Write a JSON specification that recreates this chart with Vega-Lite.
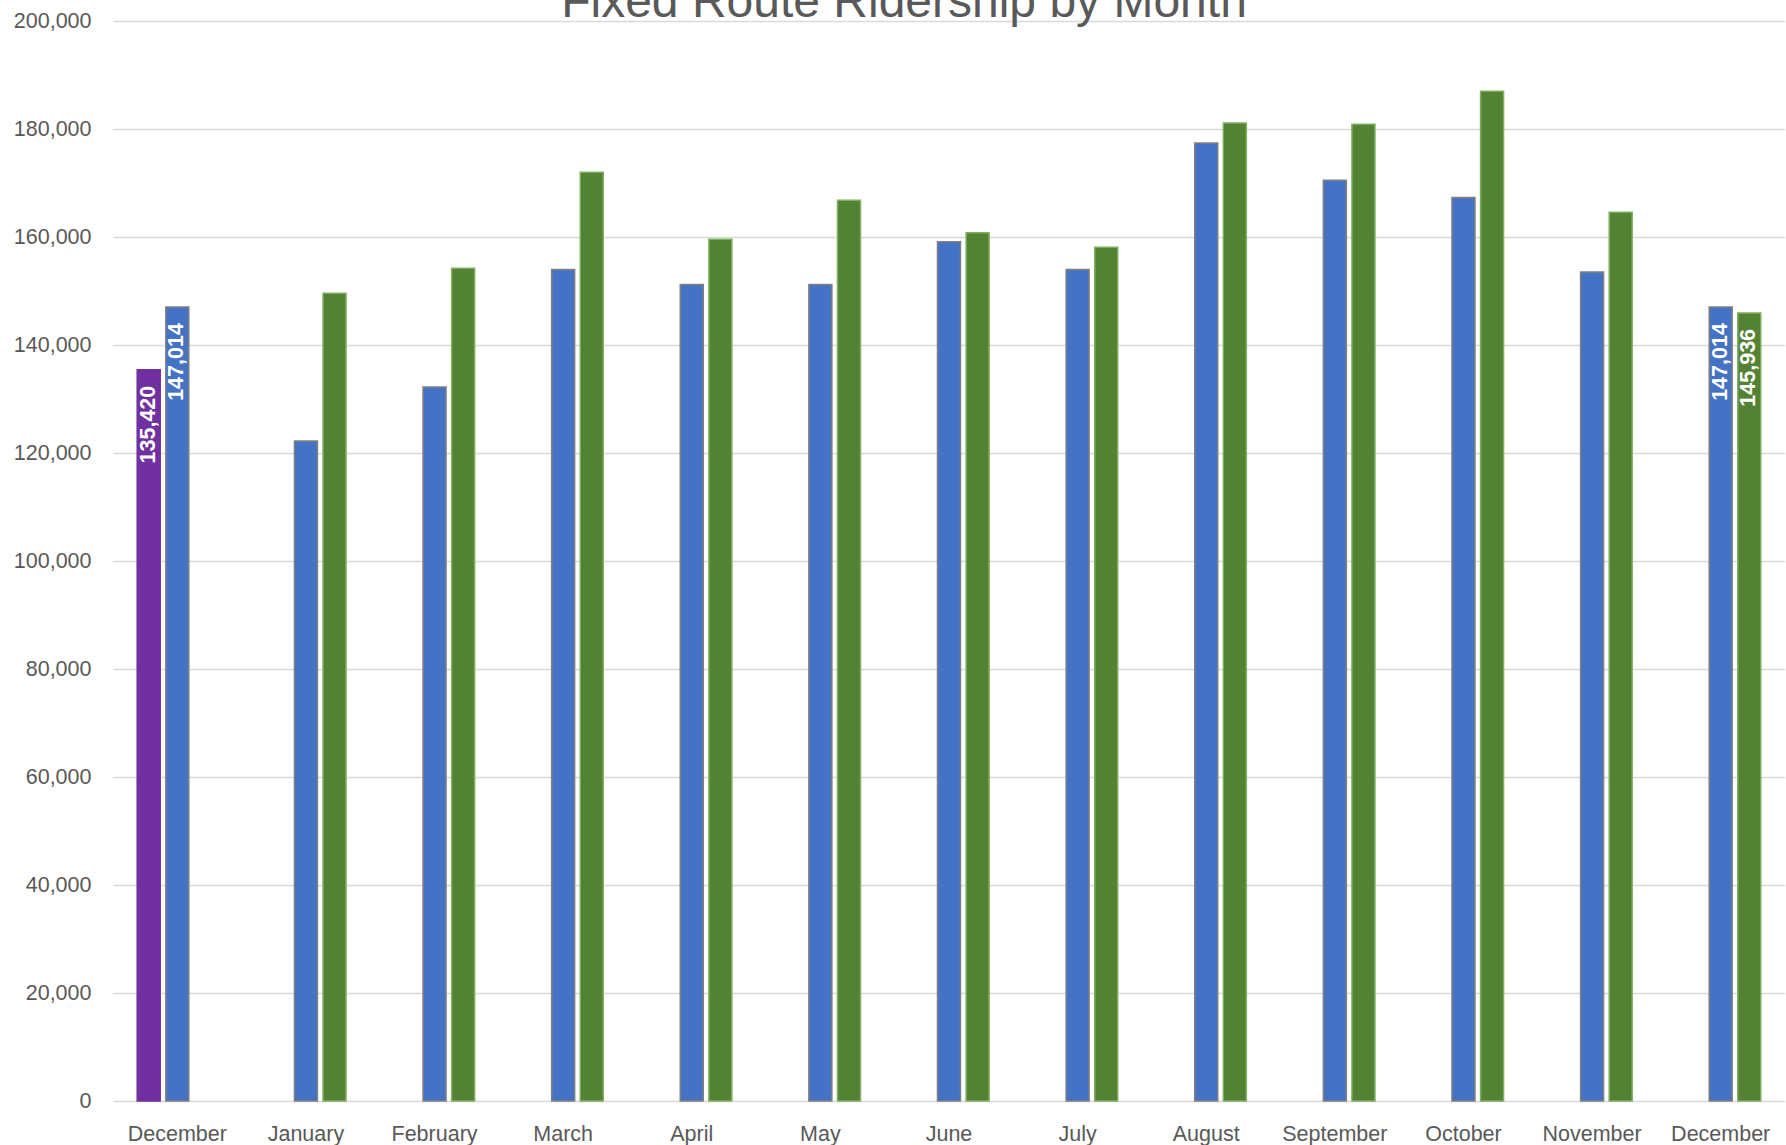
{
  "$schema": "https://vega.github.io/schema/vega-lite/v6.json",
  "width": 1672,
  "height": 1080,
  "autosize": {"type": "none"},
  "padding": {"left": 113, "top": 21, "right": 1, "bottom": 44},
  "background": "white",
  "title": {
    "text": "Fixed Route Ridership by Month",
    "fontSize": 48,
    "font": "Liberation Sans",
    "fontWeight": "normal",
    "color": "#595959",
    "anchor": "middle",
    "dx": -45,
    "dy": 55,
    "offset": 0,
    "baseline": "alphabetic"
  },
  "config": {"view": {"stroke": null}},
  "data": {
    "values": [
      {"month": "December_0", "series": "Prior", "riders": 135420},
      {"month": "December_0", "series": "Year 1", "riders": 147014},
      {"month": "January", "series": "Year 1", "riders": 122200},
      {"month": "January", "series": "Year 2", "riders": 149600},
      {"month": "February", "series": "Year 1", "riders": 132200},
      {"month": "February", "series": "Year 2", "riders": 154200},
      {"month": "March", "series": "Year 1", "riders": 154000},
      {"month": "March", "series": "Year 2", "riders": 172000},
      {"month": "April", "series": "Year 1", "riders": 151200},
      {"month": "April", "series": "Year 2", "riders": 159600},
      {"month": "May", "series": "Year 1", "riders": 151200},
      {"month": "May", "series": "Year 2", "riders": 166800},
      {"month": "June", "series": "Year 1", "riders": 159100},
      {"month": "June", "series": "Year 2", "riders": 160800},
      {"month": "July", "series": "Year 1", "riders": 154000},
      {"month": "July", "series": "Year 2", "riders": 158100},
      {"month": "August", "series": "Year 1", "riders": 177400},
      {"month": "August", "series": "Year 2", "riders": 181100},
      {"month": "September", "series": "Year 1", "riders": 170500},
      {"month": "September", "series": "Year 2", "riders": 180900},
      {"month": "October", "series": "Year 1", "riders": 167300},
      {"month": "October", "series": "Year 2", "riders": 187000},
      {"month": "November", "series": "Year 1", "riders": 153500},
      {"month": "November", "series": "Year 2", "riders": 164600},
      {"month": "December_12", "series": "Year 1", "riders": 147014},
      {"month": "December_12", "series": "Year 2", "riders": 145936}
    ]
  },
  "encoding": {
    "x": {
      "field": "month",
      "type": "nominal",
      "sort": null,
      "scale": {
        "domain": ["December_0", "January", "February", "March", "April", "May", "June", "July", "August", "September", "October", "November", "December_12"],
        "paddingInner": 0,
        "paddingOuter": 0
      },
      "axis": {
        "title": null,
        "labelExpr": "split(datum.label, '_')[0]",
        "labelAngle": 0,
        "ticks": false,
        "domain": false,
        "labelFont": "Liberation Sans",
        "labelFontSize": 21.5,
        "labelColor": "#595959",
        "labelPadding": 22
      }
    },
    "xOffset": {
      "field": "series",
      "type": "nominal",
      "scale": {"domain": ["Prior", "Year 1", "Year 2"], "paddingInner": 0.196, "paddingOuter": 0.846}
    },
    "y": {
      "field": "riders",
      "type": "quantitative",
      "scale": {"domain": [0, 200000]},
      "axis": {
        "title": null,
        "values": [0, 20000, 40000, 60000, 80000, 100000, 120000, 140000, 160000, 180000, 200000],
        "format": ",.0f",
        "grid": true,
        "gridColor": "#d9d9d9",
        "gridWidth": 1.5,
        "domain": false,
        "ticks": false,
        "labelPadding": 22,
        "labelFont": "Liberation Sans",
        "labelFontSize": 21.5,
        "labelColor": "#595959"
      }
    }
  },
  "layer": [
    {
      "mark": {"type": "bar", "strokeWidth": 1.5},
      "encoding": {
        "color": {
          "field": "series",
          "type": "nominal",
          "scale": {"domain": ["Prior", "Year 1", "Year 2"], "range": ["#7030A0", "#4472C4", "#548235"]},
          "legend": null
        },
        "stroke": {
          "field": "series",
          "type": "nominal",
          "scale": {"domain": ["Prior", "Year 1", "Year 2"], "range": ["#7030A0", "#808080", "#7FAF5F"]},
          "legend": null
        }
      }
    },
    {
      "transform": [{"filter": "datum.month == 'December_0' || datum.month == 'December_12'"}],
      "mark": {
        "type": "text",
        "angle": 270,
        "align": "right",
        "baseline": "middle",
        "dx": -16,
        "color": "white",
        "font": "Liberation Sans",
        "fontWeight": "bold",
        "fontSize": 21.5
      },
      "encoding": {
        "text": {"field": "riders", "type": "quantitative", "format": ","}
      }
    }
  ]
}
